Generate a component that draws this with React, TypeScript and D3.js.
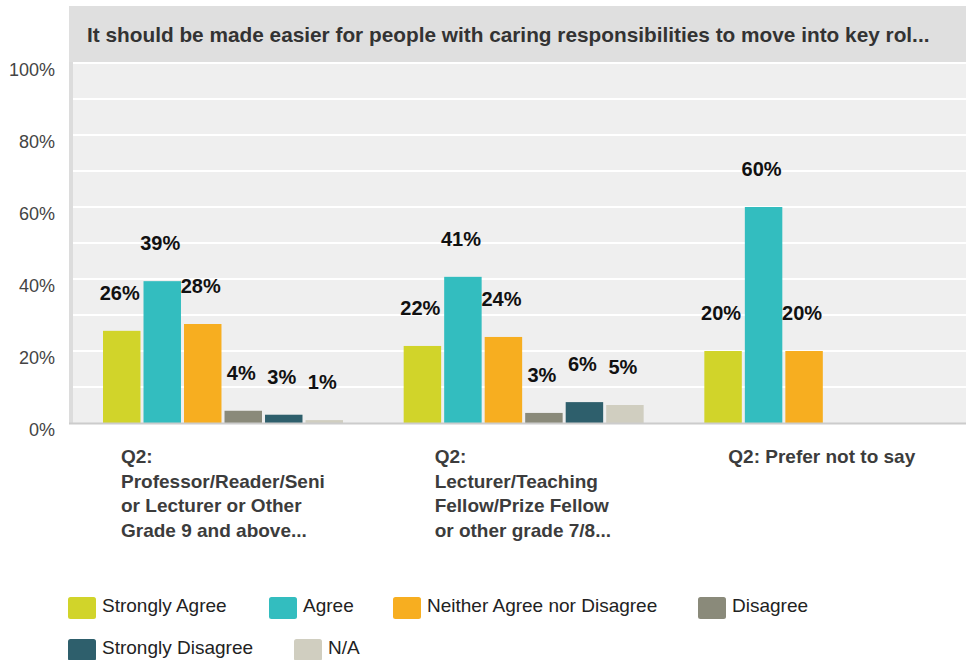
import React from "react";
import * as d3 from "d3";

const title = "It should be made easier for people with caring responsibilities to move into key rol...";

const categories = ["prof", "lect", "pnts"];
const categoryLines = [
  ["Q2:", "Professor/Reader/Seni", "or Lecturer or Other", "Grade 9 and above..."],
  ["Q2:", "Lecturer/Teaching", "Fellow/Prize Fellow", "or other grade 7/8..."],
  ["Q2: Prefer not to say"],
];

const seriesNames = [
  "Strongly Agree",
  "Agree",
  "Neither Agree nor Disagree",
  "Disagree",
  "Strongly Disagree",
  "N/A",
];

const stronglyAgree = [25.6, 21.4, 20];
const agree = [39.4, 40.6, 60];
const neither = [27.5, 23.9, 20];
const disagree = [3.4, 2.8, null];
const stronglyDisagree = [2.3, 5.8, null];
const notApplicable = [0.8, 5.0, null];

const stronglyAgreeLabels = ["26%", "22%", "20%"];
const agreeLabels = ["39%", "41%", "60%"];
const neitherLabels = ["28%", "24%", "20%"];
const disagreeLabels = ["4%", "3%", ""];
const stronglyDisagreeLabels = ["3%", "6%", ""];
const notApplicableLabels = ["1%", "5%", ""];

const yTicks = [0, 20, 40, 60, 80, 100];
const gridTicks = [10, 20, 30, 40, 50, 60, 70, 80, 90, 100];

const colors = ["#d1d42a", "#33bdbf", "#f7ae20", "#8a8a7a", "#2e5f6c", "#d0cec0"];

const seriesValues = [stronglyAgree, agree, neither, disagree, stronglyDisagree, notApplicable];
const seriesLabels = [
  stronglyAgreeLabels,
  agreeLabels,
  neitherLabels,
  disagreeLabels,
  stronglyDisagreeLabels,
  notApplicableLabels,
];

const W = 966;
const H = 660;
const plotLeft = 73;
const plotRight = 975;
const plotTop = 62;
const plotBottom = 423;

const catLabelOffsets = [48, 61, 54];
const legendPos = [
  [68, 597],
  [269, 597],
  [393, 597],
  [698, 597],
  [68, 639],
  [294, 639],
];

export default function App() {
  const x0 = d3.scaleBand<string>().domain(categories).range([plotLeft, plotRight]).padding(0);
  const x1 = d3
    .scaleBand<string>()
    .domain(seriesNames)
    .range([30, 270])
    .paddingInner(0.075)
    .paddingOuter(0);
  const y = d3.scaleLinear().domain([0, 100]).range([plotBottom, 63]);

  const font = "'Liberation Sans', Arial, sans-serif";

  return (
    <svg
      width={W}
      height={H}
      style={{ position: "absolute", left: 0, top: 0, fontFamily: font, background: "#fff" }}
    >
      {/* title band */}
      <rect x={69} y={6} width={W - 69} height={56} fill="#dfdfdf" />
      <text x={87} y={42} fontSize={20.8} fontWeight="bold" fill="#333">
        {title}
      </text>
      {/* plot background */}
      <rect x={plotLeft} y={plotTop} width={W - plotLeft} height={plotBottom - plotTop} fill="#efefef" />
      <rect x={69} y={plotTop} width={4} height={plotBottom - plotTop} fill="#dcdcdc" />
      {gridTicks.map((t) => (
        <line key={t} x1={plotLeft} x2={W} y1={y(t)} y2={y(t)} stroke="#fff" strokeWidth={2} />
      ))}
      {yTicks.map((t) => (
        <text key={t} x={55} y={y(t) + 12.5} fontSize={18} fill="#444" textAnchor="end">
          {t}%
        </text>
      ))}
      {/* bars */}
      {categories.map((c, ci) => (
        <g key={c} transform={`translate(${x0(c)},0)`}>
          {seriesNames.map((s, si) => {
            const v = seriesValues[si][ci];
            if (v == null) return null;
            const bx = x1(s) as number;
            const bw = x1.bandwidth();
            return (
              <g key={s}>
                <rect x={bx} y={y(v)} width={bw} height={plotBottom - y(v)} fill={colors[si]} />
                <text
                  x={bx + bw / 2 - 2}
                  y={y(v) - 31}
                  fontSize={20}
                  fontWeight="bold"
                  fill="#111"
                  textAnchor="middle"
                >
                  {seriesLabels[si][ci]}
                </text>
              </g>
            );
          })}
        </g>
      ))}
      <line x1={69} x2={W} y1={plotBottom + 0.5} y2={plotBottom + 0.5} stroke="#cccccc" strokeWidth={2} />
      {/* category labels */}
      {categories.map((c, ci) => (
        <text
          key={c}
          x={(x0(c) as number) + catLabelOffsets[ci]}
          fontSize={19}
          fontWeight="bold"
          fill="#3c3c3c"
        >
          {categoryLines[ci].map((ln, li) => (
            <tspan key={li} x={(x0(c) as number) + catLabelOffsets[ci]} y={463 + li * 24.5}>
              {ln}
            </tspan>
          ))}
        </text>
      ))}
      {/* legend */}
      {seriesNames.map((s, si) => (
        <g key={s} transform={`translate(${legendPos[si][0]},${legendPos[si][1]})`}>
          <rect width={28} height={22} rx={2.5} fill={colors[si]} />
          <text x={34} y={15} fontSize={19} fill="#222">
            {s}
          </text>
        </g>
      ))}
    </svg>
  );
}
